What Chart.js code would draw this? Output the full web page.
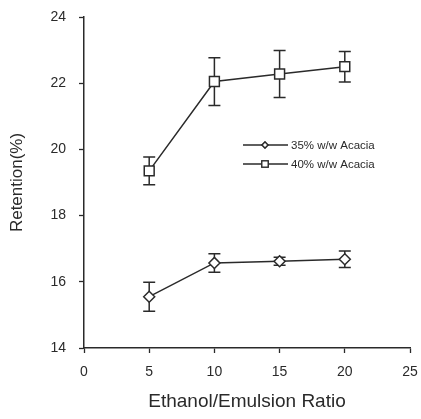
<!DOCTYPE html>
<html>
<head>
<meta charset="utf-8">
<script src="https://cdn.jsdelivr.net/npm/chart.js@4/dist/chart.umd.min.js"></script>
<style>
  html, body { margin: 0; padding: 0; background: #fff; }
  #wrap { position: relative; width: 421px; height: 419px; }
</style>
</head>
<body>
<div id="wrap"><canvas id="c" width="421" height="419"></canvas></div>
<script>
// values
const ratios = [5, 10, 15, 20];
const acacia35 = [15.55, 16.57, 16.62, 16.68];
const acacia35Err = [0.44, 0.28, 0.12, 0.25];
const acacia40 = [19.35, 22.05, 22.28, 22.5];
const acacia40Err = [0.42, 0.72, 0.71, 0.46];
const xTicks = [0, 5, 10, 15, 20, 25];
const yTicks = [14, 16, 18, 20, 22, 24];
const seriesNames = ['35% w/w Acacia', '40% w/w Acacia'];

const ink = '#2a2a2a';
const font = 'Liberation Sans, Arial, sans-serif';

const toPoints = (ys) => ratios.map((x, i) => ({ x: x, y: ys[i] }));

const errorBars = {
    id: 'errorBars',
    beforeDatasetsDraw(chart) {
        const { ctx, scales: { x, y } } = chart;
        ctx.save();
        ctx.strokeStyle = ink;
        ctx.lineWidth = 1.5;
        chart.data.datasets.forEach(ds => {
            ds.data.forEach((p, i) => {
                const px = x.getPixelForValue(p.x);
                const top = y.getPixelForValue(p.y + ds.err[i]);
                const bot = y.getPixelForValue(p.y - ds.err[i]);
                ctx.beginPath();
                ctx.moveTo(px, top); ctx.lineTo(px, bot);
                ctx.moveTo(px - 6, top); ctx.lineTo(px + 6, top);
                ctx.moveTo(px - 6, bot); ctx.lineTo(px + 6, bot);
                ctx.stroke();
            });
        });
        ctx.restore();
    }
};

const legendBox = {
    id: 'legendBox',
    afterDraw(chart) {
        const { ctx, chartArea } = chart;
        const x0 = chartArea.left + 159;
        const y0 = chartArea.top + 128;
        ctx.save();
        ctx.font = '11.5px ' + font;
        ctx.fillStyle = ink;
        ctx.textBaseline = 'middle';
        chart.data.datasets.forEach((ds, i) => {
            const yy = y0 + i * 19;
            ctx.strokeStyle = ink;
            ctx.lineWidth = 1.3;
            ctx.beginPath();
            ctx.moveTo(x0, yy); ctx.lineTo(x0 + 45, yy);
            ctx.stroke();
            Chart.helpers.drawPoint(ctx, {
                pointStyle: ds.pointStyle,
                radius: i === 0 ? 3 : 4.5,
                borderWidth: 1.3
            }, x0 + 22, yy);
            ctx.fillStyle = '#fff';
            ctx.fill();
            ctx.stroke();
            ctx.fillStyle = ink;
            ctx.fillText(ds.label, x0 + 48, yy + 0.5);
        });
        ctx.restore();
    }
};

new Chart(document.getElementById('c'), {
    type: 'scatter',
    data: {
        datasets: [
            {
                label: seriesNames[0],
                data: toPoints(acacia35),
                err: acacia35Err,
                showLine: true,
                borderColor: ink,
                borderWidth: 1.5,
                pointStyle: 'rectRot',
                pointRadius: 5.5,
                pointBorderWidth: 1.5,
                pointBackgroundColor: '#fff',
                pointBorderColor: ink
            },
            {
                label: seriesNames[1],
                data: toPoints(acacia40),
                err: acacia40Err,
                showLine: true,
                borderColor: ink,
                borderWidth: 1.5,
                pointStyle: 'rect',
                pointRadius: 7,
                pointBorderWidth: 1.5,
                pointBackgroundColor: '#fff',
                pointBorderColor: ink
            }
        ]
    },
    options: {
        responsive: false,
        animation: false,
        layout: { padding: { top: 17, right: 11, left: 0, bottom: 0 } },
        plugins: { legend: { display: false }, tooltip: { enabled: false } },
        scales: {
            x: {
                type: 'linear',
                min: 0, max: 25,
                afterFit(s) { s.height = 71; s.paddingRight = 0; s.paddingLeft = 0; },
                afterBuildTicks(s) { s.ticks = xTicks.map(v => ({ value: v })); },
                grid: { drawOnChartArea: false, drawTicks: true, tickLength: 5, color: ink, tickWidth: 1.3 },
                border: { color: ink, width: 1.5 },
                ticks: { color: ink, font: { family: font, size: 14 }, padding: 11 },
                title: { display: true, text: 'Ethanol/Emulsion Ratio', color: ink,
                         font: { family: font, size: 19 }, padding: { top: 0, bottom: 6 } }
            },
            y: {
                min: 14, max: 24,
                afterFit(s) { s.width = 84; s.paddingTop = 0; s.paddingBottom = 0; },
                afterBuildTicks(s) { s.ticks = yTicks.map(v => ({ value: v })); },
                grid: { drawOnChartArea: false, drawTicks: true, tickLength: 5, color: ink, tickWidth: 1.3 },
                border: { color: ink, width: 1.5 },
                ticks: { color: ink, font: { family: font, size: 14 }, padding: 13 },
                title: { display: true, text: 'Retention(%)', color: ink,
                         font: { family: font, size: 17 }, padding: { top: 7, bottom: 0 } }
            }
        }
    },
    plugins: [errorBars, legendBox]
});
</script>
</body>
</html>
